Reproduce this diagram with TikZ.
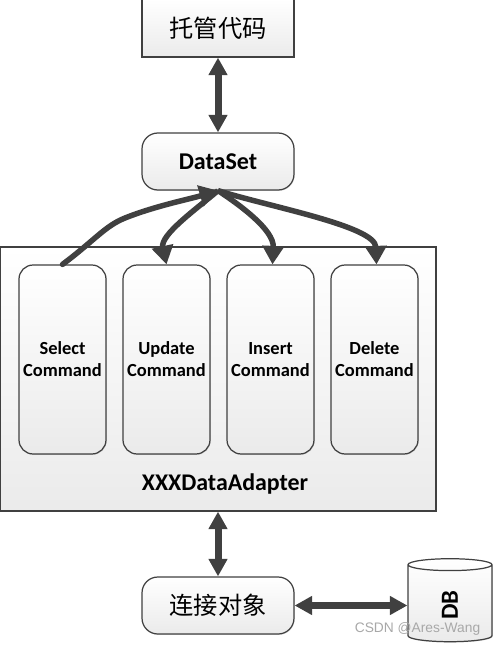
\documentclass[tikz,border=0pt]{standalone}
\usepackage{fontspec}
\setmainfont{Carlito}
\newfontfamily\cjkfont{Noto Sans CJK SC}
\newfontfamily\markfont{Liberation Sans}
\usetikzlibrary{arrows.meta, shapes.geometric, shadows}
\definecolor{cline}{HTML}{404040}
\definecolor{cmark}{HTML}{A8A8A8}
\tikzset{
  every picture/.style={line width=0.7pt},
  shade box/.style={draw=cline, top color=white, bottom color=black!8, drop shadow={shadow xshift=0.4pt, shadow yshift=-0.5pt, opacity=0.25}},
  rect box/.style={shade box, minimum width=3.04cm, minimum height=1.16cm, font=\cjkfont\fontsize{13.8}{16}\selectfont},
  round box/.style={shade box, rounded corners=9pt, minimum width=3.04cm, minimum height=1.14cm},
  cmd box/.style={shade box, rounded corners=8pt, align=center, inner sep=0pt, minimum width=1.74cm, minimum height=3.78cm, font=\bfseries\fontsize{10.5}{12.5}\selectfont},
  link/.style={{Triangle[length=3.5mm,width=3.6mm]}-{Triangle[length=3.5mm,width=3.6mm]}, draw=cline, line width=1.4mm},
  curve/.style={-{Triangle[length=3.7mm,width=4.2mm]}, draw=cline, line width=1.1mm},
}
\begin{document}
\begin{tikzpicture}[x=0.02cm, y=-0.02cm]
  \useasboundingbox (0,0) rectangle (495,646);
  \node[rect box] (code) at (218,28) {托管代码};
  \node[round box, font=\bfseries\fontsize{13.7}{15}\selectfont] (dataset) at (218,161.5) {DataSet};
  \node[shade box, minimum width=8.72cm, minimum height=5.28cm] (adapter) at (218,379) {};
  \node[font=\bfseries\fontsize{13.6}{15}\selectfont] (adaptername) at (225,484) {XXXDataAdapter};
  \foreach \x/\n in {62.5/select, 166.5/update, 270.5/insert, 374.5/delete} {
    \coordinate (\n pos) at (\x,359.5);
  }
  \node[cmd box] (select) at (selectpos) {Select\\Command};
  \node[cmd box] (update) at (updatepos) {Update\\Command};
  \node[cmd box] (insert) at (insertpos) {Insert\\Command};
  \node[cmd box] (delete) at (deletepos) {Delete\\Command};
  \node[round box, font=\cjkfont\fontsize{13.8}{16}\selectfont] (conn) at (218,605.5) {连接对象};
  \node[shade box, cylinder, shape border rotate=90, aspect=0.43, minimum width=1.68cm, minimum height=1.66cm, font=\bfseries\fontsize{14}{15}\selectfont] (db) at (450,605) {\rotatebox{90}{DB}};
  \draw[link] (code.south) -- (dataset.north);
  \draw[link] (adapter.south) -- (conn.north);
  \draw[link] (conn.east) -- (conn.east -| db.west);
  \draw[curve, line cap=round] (select.north) .. controls (95,240) and (105,226) .. (125,218) .. controls (155,206) and (190,199) .. (dataset.south);
  \draw[curve] (dataset.south) .. controls (195,210) and (160,235) .. (update.north);
  \draw[curve] (dataset.south) .. controls (240,205) and (274,230) .. ([xshift=0.4mm]insert.north);
  \draw[curve] (dataset.south) .. controls (270,207) and (375,226) .. ([xshift=0.4mm]delete.north);
  \node[text=cmark, font=\markfont\fontsize{7.85}{10}\selectfont] (credit) at (417.5,628.5) {CSDN @Ares-Wang};
\end{tikzpicture}
\end{document}
